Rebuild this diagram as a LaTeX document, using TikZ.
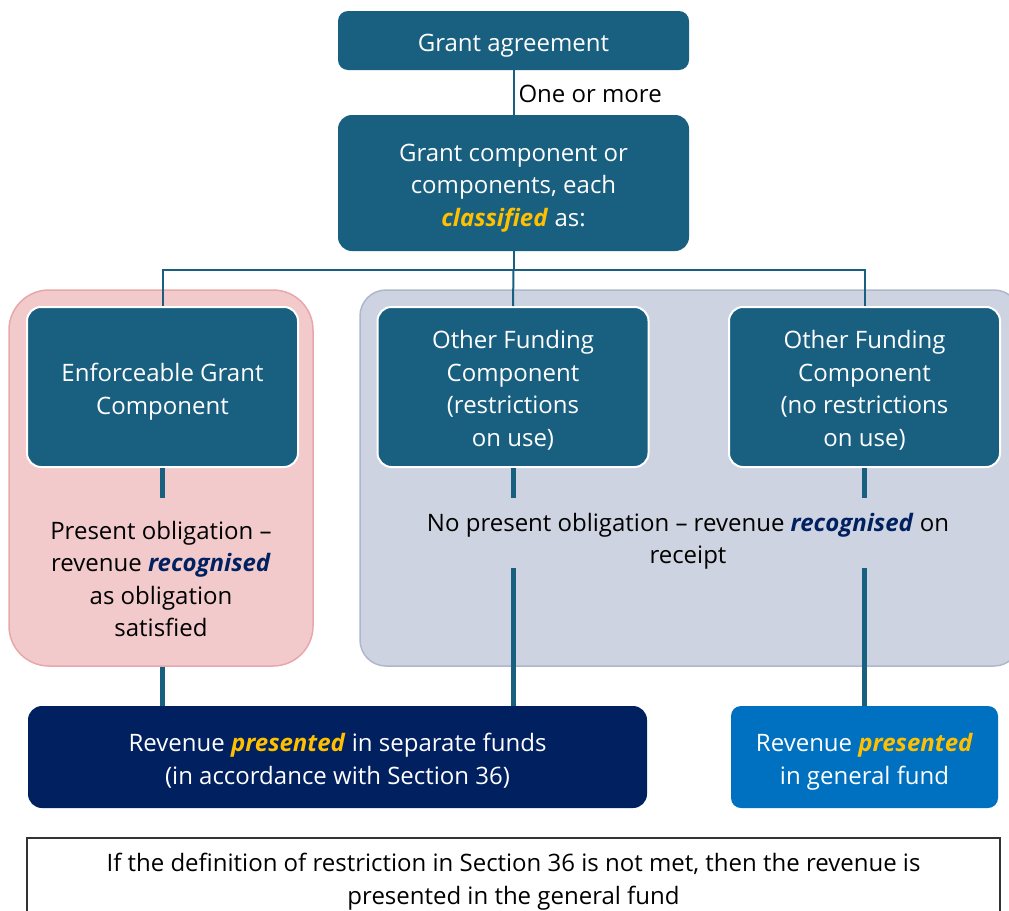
\documentclass[tikz,border=0pt]{standalone}
\usepackage{fontspec}
\setmainfont{Open Sans}
\usetikzlibrary{calc}
\definecolor{teal1}{HTML}{185F80}
\definecolor{navy1}{HTML}{002060}
\definecolor{blue1}{HTML}{0070C0}
\definecolor{gold1}{HTML}{FFC000}
\definecolor{pinkfill}{HTML}{F2CACC}
\definecolor{pinkline}{HTML}{E8A8AA}
\definecolor{grayfill}{HTML}{CDD3E0}
\definecolor{grayline}{HTML}{AEB8CC}
\newcommand{\kw}[2]{\textcolor{#1}{\textbf{\textit{#2}}}}
\begin{document}
\begin{tikzpicture}[x=1pt,y=-1pt,
  txt/.style={align=center, font=\fontsize{24}{32.5}\selectfont, inner sep=0pt},
  wtxt/.style={txt, text=white},
  tealbox/.style={fill=teal1, rounded corners=14pt, inner sep=0pt},
  compbox/.style={tealbox, draw=white, line width=2pt, minimum width=271pt, minimum height=160pt},
  container/.style={line width=1.5pt, inner sep=0pt},
  thinline/.style={draw=teal1, line width=2pt},
  thickline/.style={draw=teal1, line width=5pt}]
\clip (0,0) rectangle (1009,910);
\fill[white] (0,0) rectangle (1009,910);
% containers
\node[container, draw=pinkline, fill=pinkfill, rounded corners=40pt, minimum width=304pt, minimum height=376pt] (pinkc) at (161,478) {};
\node[container, draw=grayline, fill=grayfill, rounded corners=26pt, minimum width=660pt, minimum height=376pt] (grayc) at (690,478) {};
% boxes
\node[tealbox, minimum width=351pt, minimum height=59pt, rounded corners=10pt] (ga) at (513.5,40.5) {};
\node[wtxt] (gat) at (513.5,46) {Grant agreement};
\node[tealbox, minimum width=351pt, minimum height=136pt] (gc) at (513.5,183) {};
\node[wtxt] (gct) at (513.5,188) {Grant component or\\components, each\\\kw{gold1}{classified} as:};
\node[compbox] (egc) at (162.5,387) {};
\node[wtxt] (egct) at (162.5,391.5) {Enforceable Grant\\Component};
\node[compbox] (ofr) at (513,387) {};
\node[wtxt] (ofrt) at (513,390.5) {Other Funding\\Component\\(restrictions\\on use)};
\node[compbox] (ofn) at (864.5,387) {};
\node[wtxt] (ofnt) at (864.5,390.5) {Other Funding\\Component\\(no restrictions\\on use)};
\node[txt] (pres) at (161,579) {Present obligation –\\revenue \kw{navy1}{recognised}\\as obligation\\satisfied};
\node[txt] (nopres) at (688,541.5) {No present obligation – revenue \kw{navy1}{recognised} on\\receipt};
\node[tealbox, fill=navy1, minimum width=619pt, minimum height=102pt] (rsep) at (337.5,757) {};
\node[wtxt] (rsept) at (337.5,760.5) {Revenue \kw{gold1}{presented} in separate funds\\(in accordance with Section 36)};
\node[tealbox, fill=blue1, minimum width=267pt, minimum height=102pt, rounded corners=10pt] (rgen) at (864.5,757) {};
\node[wtxt] (rgent) at (864.5,762) {Revenue \kw{gold1}{presented}\\in general fund};
\node[draw=black!80, line width=1.2pt, inner sep=0pt, minimum width=973pt, minimum height=76pt] (note) at (513.5,876) {};
\node[txt] (notetext) at (513.5,881.5) {If the definition of restriction in Section 36 is not met, then the revenue is\\presented in the general fund};
% connectors
\draw[thinline] (ga.south) -- (gc.north) node[midway, right, txt, xshift=4pt, yshift=-1pt, text=black] {One or more};
\coordinate (bar) at ($(gc.south)+(0,19)$);
\draw[thinline] (gc.south) -- (bar);
\draw[thinline] (egc.north) |- (bar) -| (ofn.north);
\draw[thinline] (bar) -- (ofr.north);
\coordinate (e1) at ($(egc.south)+(0,30)$);
\coordinate (r1) at ($(ofr.south)+(0,30)$);
\coordinate (n1) at ($(ofn.south)+(0,30)$);
\draw[thickline] (egc.south) -- (e1);
\draw[thickline] (ofr.south) -- (r1);
\draw[thickline] (ofn.south) -- (n1);
\coordinate (r2) at (ofr.south |- 0,568);
\coordinate (n2) at (ofn.south |- 0,568);
\draw[thickline] (egc.south |- pinkc.south) -- (egc.south |- rsep.north);
\draw[thickline] (r2) -- (ofr.south |- rsep.north);
\draw[thickline] (n2) -- (rgen.north);
\end{tikzpicture}
\end{document}
